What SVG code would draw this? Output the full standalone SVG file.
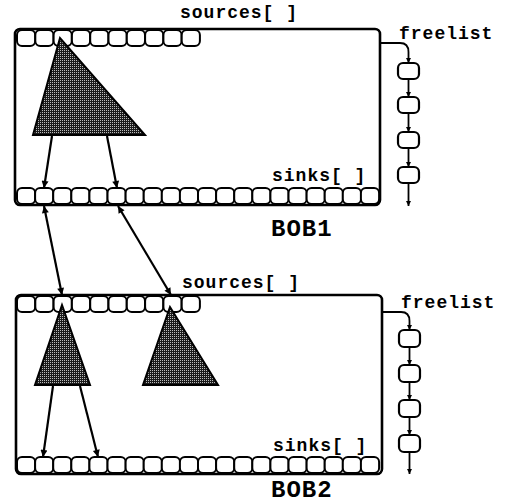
<svg xmlns="http://www.w3.org/2000/svg" xmlns:xlink="http://www.w3.org/1999/xlink" width="506" height="504" viewBox="0 0 506 504">
<style>
.box{fill:none;stroke:#000;stroke-width:2.6}
.cell{fill:#fff;stroke:#000;stroke-width:2}
.tri{fill:url(#stip);stroke:#000;stroke-width:2;stroke-linejoin:miter}
.lbl{font-family:"Liberation Mono","Courier New",monospace;font-weight:bold;font-size:18px;letter-spacing:1px;fill:#000}
.big{font-family:"Liberation Mono","Courier New",monospace;font-weight:bold;font-size:24px;letter-spacing:1px;fill:#000}
.arr{fill:none;stroke:#000;stroke-width:2.2}
.fl{fill:none;stroke:#000;stroke-width:1.8}
.fn{fill:#fff;stroke:#000;stroke-width:2.2}
</style>
<defs>
<pattern id="stip" width="2" height="2" patternUnits="userSpaceOnUse"><rect width="2" height="2" fill="#1a1a1a"/><rect x="0" y="0" width="1" height="1" fill="#bbb"/></pattern>
<rect id="c" class="cell" width="18.2" height="16" rx="5"/>
<marker id="ah" viewBox="0 0 10 10" refX="10" refY="5" markerWidth="11" markerHeight="7" markerUnits="userSpaceOnUse" orient="auto-start-reverse"><path d="M0,0 L10,5 L0,10 z" fill="#000"/></marker>
<marker id="sh" viewBox="0 0 10 10" refX="10" refY="5" markerWidth="7" markerHeight="5" markerUnits="userSpaceOnUse" orient="auto"><path d="M0,0 L10,5 L0,10 z" fill="#000"/></marker>
</defs>

<g id="bob1">
<rect class="box" x="15" y="29" width="365" height="176" rx="5"/>
<g id="bob1-sources">
<use href="#c" x="17" y="30"/><use href="#c" x="35.3" y="30"/><use href="#c" x="53.6" y="30"/><use href="#c" x="71.9" y="30"/><use href="#c" x="90.2" y="30"/><use href="#c" x="108.5" y="30"/><use href="#c" x="126.8" y="30"/><use href="#c" x="145.1" y="30"/><use href="#c" x="163.4" y="30"/><use href="#c" x="181.7" y="30"/>
</g>
<g id="bob1-sinks">
<use href="#c" x="17" y="188"/><use href="#c" x="35.1" y="188"/><use href="#c" x="53.2" y="188"/><use href="#c" x="71.3" y="188"/><use href="#c" x="89.4" y="188"/><use href="#c" x="107.5" y="188"/><use href="#c" x="125.6" y="188"/><use href="#c" x="143.7" y="188"/><use href="#c" x="161.8" y="188"/><use href="#c" x="179.9" y="188"/><use href="#c" x="198" y="188"/><use href="#c" x="216.1" y="188"/><use href="#c" x="234.2" y="188"/><use href="#c" x="252.3" y="188"/><use href="#c" x="270.4" y="188"/><use href="#c" x="288.5" y="188"/><use href="#c" x="306.6" y="188"/><use href="#c" x="324.7" y="188"/><use href="#c" x="342.8" y="188"/><use href="#c" x="360.9" y="188"/>
</g>
<text class="lbl" x="180" y="18">sources[ ]</text>
<text class="lbl" x="272" y="181">sinks[ ]</text>
<text class="big" x="271" y="236">BOB1</text>
<text class="lbl" x="399" y="39">freelist</text>
</g>

<g id="bob1-tri"><polygon class="tri" points="60,38 33,135 145,135"/></g>

<g id="bob1-free">
<rect class="fn" x="398" y="63" width="21" height="16" rx="5"/>
<rect class="fn" x="398" y="97" width="21" height="16" rx="5"/>
<rect class="fn" x="398" y="132" width="21" height="16" rx="5"/>
<rect class="fn" x="398" y="167" width="21" height="16" rx="5"/>
</g>

<g id="bob2">
<rect class="box" x="16" y="295" width="366" height="179" rx="5"/>
<g id="bob2-sources">
<use href="#c" x="17" y="296"/><use href="#c" x="35.3" y="296"/><use href="#c" x="53.6" y="296"/><use href="#c" x="71.9" y="296"/><use href="#c" x="90.2" y="296"/><use href="#c" x="108.5" y="296"/><use href="#c" x="126.8" y="296"/><use href="#c" x="145.1" y="296"/><use href="#c" x="163.4" y="296"/><use href="#c" x="181.7" y="296"/>
</g>
<g id="bob2-sinks">
<use href="#c" x="17" y="457"/><use href="#c" x="35.1" y="457"/><use href="#c" x="53.2" y="457"/><use href="#c" x="71.3" y="457"/><use href="#c" x="89.4" y="457"/><use href="#c" x="107.5" y="457"/><use href="#c" x="125.6" y="457"/><use href="#c" x="143.7" y="457"/><use href="#c" x="161.8" y="457"/><use href="#c" x="179.9" y="457"/><use href="#c" x="198" y="457"/><use href="#c" x="216.1" y="457"/><use href="#c" x="234.2" y="457"/><use href="#c" x="252.3" y="457"/><use href="#c" x="270.4" y="457"/><use href="#c" x="288.5" y="457"/><use href="#c" x="306.6" y="457"/><use href="#c" x="324.7" y="457"/><use href="#c" x="342.8" y="457"/><use href="#c" x="360.9" y="457"/>
</g>
<text class="lbl" x="182" y="288">sources[ ]</text>
<text class="lbl" x="273" y="451">sinks[ ]</text>
<text class="big" x="271" y="497">BOB2</text>
<text class="lbl" x="401" y="308">freelist</text>
</g>

<g id="bob2-triA"><polygon class="tri" points="62,305 35,385 90,385"/></g>
<g id="bob2-triB"><polygon class="tri" points="170,307 143,385 218,385"/></g>

<g id="bob2-free">
<rect class="fn" x="399" y="330" width="21" height="17" rx="5"/>
<rect class="fn" x="399" y="365" width="21" height="17" rx="5"/>
<rect class="fn" x="399" y="400" width="21" height="17" rx="5"/>
<rect class="fn" x="399" y="435" width="21" height="17" rx="5"/>
</g>

<g id="connectors">
<line class="arr" x1="52" y1="136" x2="44" y2="188" marker-end="url(#ah)"/>
<line class="arr" x1="107" y1="136" x2="117" y2="188" marker-end="url(#ah)"/>
<line class="arr" x1="44" y1="206" x2="62" y2="295" marker-start="url(#ah)" marker-end="url(#ah)"/>
<line class="arr" x1="118" y1="206" x2="171" y2="295" marker-start="url(#ah)" marker-end="url(#ah)"/>
<line class="arr" x1="53" y1="386" x2="43" y2="457" marker-end="url(#ah)"/>
<line class="arr" x1="80" y1="386" x2="98" y2="457" marker-end="url(#ah)"/>
<path class="fl" d="M380,43 H400 Q408.5,43 408.5,52 V63" marker-end="url(#sh)"/>
<line class="fl" x1="408.5" y1="79" x2="408.5" y2="97" marker-end="url(#sh)"/>
<line class="fl" x1="408.5" y1="113" x2="408.5" y2="132" marker-end="url(#sh)"/>
<line class="fl" x1="408.5" y1="148" x2="408.5" y2="167" marker-end="url(#sh)"/>
<line class="fl" x1="408.5" y1="183" x2="408.5" y2="206" marker-end="url(#sh)"/>
<path class="fl" d="M382,312 H401 Q409.5,312 409.5,321 V330" marker-end="url(#sh)"/>
<line class="fl" x1="409.5" y1="347" x2="409.5" y2="365" marker-end="url(#sh)"/>
<line class="fl" x1="409.5" y1="382" x2="409.5" y2="400" marker-end="url(#sh)"/>
<line class="fl" x1="409.5" y1="417" x2="409.5" y2="435" marker-end="url(#sh)"/>
<line class="fl" x1="409.5" y1="452" x2="409.5" y2="474" marker-end="url(#sh)"/>
</g>
</svg>
